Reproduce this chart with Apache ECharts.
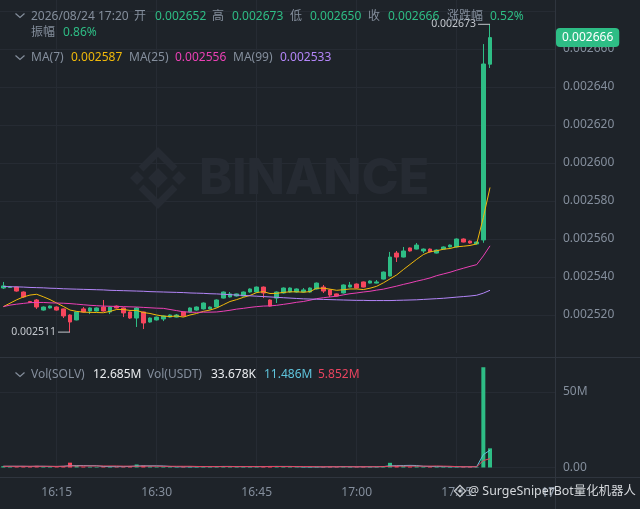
<!DOCTYPE html>
<html><head><meta charset="utf-8">
<script src="https://cdn.jsdelivr.net/npm/echarts@6/dist/echarts.min.js"></script>
<style>html,body{margin:0;padding:0;background:#1e2329;}#c{width:640px;height:509px;}</style>
</head><body><div id="c"></div>
<script>
// ---------------- data ----------------
const times = ['16:07','16:08','16:09','16:10','16:11','16:12','16:13','16:14','16:15','16:16',
'16:17','16:18','16:19','16:20','16:21','16:22','16:23','16:24','16:25','16:26',
'16:27','16:28','16:29','16:30','16:31','16:32','16:33','16:34','16:35','16:36',
'16:37','16:38','16:39','16:40','16:41','16:42','16:43','16:44','16:45','16:46',
'16:47','16:48','16:49','16:50','16:51','16:52','16:53','16:54','16:55','16:56',
'16:57','16:58','16:59','17:00','17:01','17:02','17:03','17:04','17:05','17:06',
'17:07','17:08','17:09','17:10','17:11','17:12','17:13','17:14','17:15','17:16',
'17:17','17:18','17:19','17:20'];
const opens = [0.0025342,0.0025345,0.0025347,0.0025321,0.0025271,0.0025279,0.0025226,0.0025237,0.0025242,0.0025232,
0.0025200,0.0025174,0.0025232,0.0025221,0.0025221,0.0025242,0.0025216,0.0025247,0.0025237,0.0025216,
0.0025184,0.0025216,0.0025163,0.0025174,0.0025179,0.0025189,0.0025189,0.0025216,0.0025216,0.0025226,
0.0025232,0.0025232,0.0025242,0.0025289,0.0025295,0.0025300,0.0025300,0.0025321,0.0025321,0.0025347,
0.0025279,0.0025289,0.0025316,0.0025321,0.0025321,0.0025321,0.0025321,0.0025337,0.0025347,0.0025332,
0.0025311,0.0025316,0.0025347,0.0025363,0.0025374,0.0025368,0.0025368,0.0025389,0.0025405,0.0025526,
0.0025505,0.0025553,0.0025547,0.0025537,0.0025547,0.0025526,0.0025547,0.0025558,0.0025558,0.0025600,
0.0025589,0.0025574,0.0025595,0.0026520];
const closes = [0.0025353,0.0025347,0.0025326,0.0025295,0.0025266,0.0025242,0.0025242,0.0025247,0.0025226,0.0025195,
0.0025163,0.0025216,0.0025216,0.0025237,0.0025237,0.0025221,0.0025242,0.0025237,0.0025211,0.0025184,
0.0025237,0.0025158,0.0025184,0.0025189,0.0025195,0.0025200,0.0025200,0.0025195,0.0025237,0.0025242,
0.0025263,0.0025242,0.0025279,0.0025321,0.0025311,0.0025311,0.0025321,0.0025337,0.0025347,0.0025316,
0.0025247,0.0025321,0.0025342,0.0025342,0.0025337,0.0025332,0.0025342,0.0025368,0.0025326,0.0025305,
0.0025300,0.0025358,0.0025358,0.0025342,0.0025347,0.0025379,0.0025374,0.0025426,0.0025505,0.0025505,
0.0025537,0.0025537,0.0025568,0.0025547,0.0025532,0.0025542,0.0025558,0.0025568,0.0025600,0.0025584,
0.0025579,0.0025584,0.0026521,0.0026660];
const lows = [0.0025337,0.0025342,0.0025323,0.0025290,0.0025263,0.0025232,0.0025223,0.0025234,0.0025223,0.0025184,
0.0025110,0.0025172,0.0025213,0.0025205,0.0025218,0.0025218,0.0025205,0.0025234,0.0025189,0.0025180,
0.0025137,0.0025126,0.0025160,0.0025171,0.0025168,0.0025187,0.0025187,0.0025192,0.0025213,0.0025223,
0.0025229,0.0025230,0.0025240,0.0025287,0.0025292,0.0025297,0.0025297,0.0025318,0.0025318,0.0025289,
0.0025245,0.0025263,0.0025313,0.0025318,0.0025318,0.0025318,0.0025318,0.0025334,0.0025316,0.0025295,
0.0025297,0.0025313,0.0025345,0.0025340,0.0025345,0.0025366,0.0025366,0.0025387,0.0025403,0.0025479,
0.0025503,0.0025534,0.0025545,0.0025526,0.0025529,0.0025524,0.0025545,0.0025555,0.0025555,0.0025582,
0.0025576,0.0025571,0.0025580,0.0026500];
const highs = [0.0025374,0.0025350,0.0025350,0.0025324,0.0025274,0.0025284,0.0025245,0.0025250,0.0025245,0.0025234,
0.0025203,0.0025218,0.0025242,0.0025240,0.0025240,0.0025279,0.0025245,0.0025250,0.0025240,0.0025218,
0.0025242,0.0025218,0.0025187,0.0025192,0.0025198,0.0025203,0.0025205,0.0025218,0.0025240,0.0025245,
0.0025266,0.0025245,0.0025282,0.0025324,0.0025321,0.0025313,0.0025324,0.0025340,0.0025350,0.0025350,
0.0025282,0.0025324,0.0025345,0.0025345,0.0025340,0.0025342,0.0025345,0.0025371,0.0025358,0.0025334,
0.0025313,0.0025361,0.0025374,0.0025366,0.0025376,0.0025382,0.0025384,0.0025429,0.0025532,0.0025537,
0.0025558,0.0025555,0.0025579,0.0025550,0.0025550,0.0025545,0.0025561,0.0025571,0.0025603,0.0025603,
0.0025592,0.0025587,0.0026626,0.0026730];
const volumes = [0.9e6,0.6e6,0.8e6,0.9e6,0.5e6,1.1e6,0.7e6,0.5e6,0.6e6,1.0e6,
3.2e6,1.2e6,0.6e6,0.5e6,0.4e6,0.8e6,0.6e6,0.4e6,0.7e6,0.9e6,
2.0e6,1.3e6,0.7e6,0.5e6,0.6e6,0.4e6,0.3e6,0.5e6,0.6e6,0.5e6,
0.8e6,0.4e6,0.7e6,0.9e6,0.5e6,0.4e6,0.6e6,0.5e6,0.7e6,0.8e6,
0.9e6,0.7e6,0.5e6,0.4e6,0.3e6,0.3e6,0.4e6,0.6e6,0.5e6,0.6e6,
0.4e6,0.7e6,0.5e6,0.5e6,0.6e6,0.4e6,0.5e6,1.0e6,3.1e6,1.2e6,
0.9e6,0.6e6,0.8e6,0.5e6,0.6e6,0.5e6,0.4e6,0.4e6,0.7e6,0.5e6,
0.4e6,0.4e6,66.4e6,12.685e6];
const ma7 = [0.0025244,0.0025262,0.0025280,0.0025295,0.0025305,0.0025309,0.0025296,0.0025281,0.0025263,0.0025245,
0.0025226,0.0025219,0.0025215,0.0025214,0.0025213,0.0025212,0.0025219,0.0025229,0.0025229,0.0025224,
0.0025224,0.0025213,0.0025208,0.0025200,0.0025194,0.0025192,0.0025195,0.0025189,0.0025200,0.0025208,
0.0025219,0.0025226,0.0025237,0.0025254,0.0025271,0.0025281,0.0025293,0.0025303,0.0025318,0.0025323,
0.0025313,0.0025314,0.0025319,0.0025322,0.0025322,0.0025320,0.0025323,0.0025341,0.0025341,0.0025336,
0.0025330,0.0025333,0.0025337,0.0025337,0.0025334,0.0025341,0.0025351,0.0025369,0.0025390,0.0025411,
0.0025439,0.0025466,0.0025493,0.0025518,0.0025533,0.0025538,0.0025546,0.0025550,0.0025559,0.0025562,
0.0025566,0.0025574,0.0025713,0.0025871];
const ma25 = [0.0025244,0.0025252,0.0025257,0.0025261,0.0025265,0.0025266,0.0025266,0.0025264,0.0025263,0.0025262,
0.0025260,0.0025257,0.0025254,0.0025251,0.0025249,0.0025247,0.0025246,0.0025245,0.0025244,0.0025243,
0.0025242,0.0025240,0.0025238,0.0025236,0.0025235,0.0025229,0.0025223,0.0025217,0.0025215,0.0025214,
0.0025215,0.0025215,0.0025216,0.0025220,0.0025225,0.0025231,0.0025235,0.0025240,0.0025244,0.0025247,
0.0025248,0.0025251,0.0025256,0.0025261,0.0025267,0.0025271,0.0025278,0.0025286,0.0025291,0.0025295,
0.0025299,0.0025306,0.0025312,0.0025316,0.0025321,0.0025325,0.0025331,0.0025336,0.0025344,0.0025352,
0.0025361,0.0025369,0.0025378,0.0025386,0.0025395,0.0025407,0.0025416,0.0025425,0.0025436,0.0025446,
0.0025456,0.0025465,0.0025511,0.0025564];
const ma99 = [0.0025350,0.0025349,0.0025348,0.0025347,0.0025345,0.0025344,0.0025343,0.0025341,0.0025340,0.0025338,
0.0025337,0.0025336,0.0025335,0.0025334,0.0025333,0.0025332,0.0025330,0.0025329,0.0025328,0.0025327,
0.0025326,0.0025325,0.0025323,0.0025322,0.0025321,0.0025320,0.0025319,0.0025318,0.0025316,0.0025315,
0.0025314,0.0025312,0.0025311,0.0025309,0.0025307,0.0025305,0.0025303,0.0025301,0.0025299,0.0025297,
0.0025295,0.0025293,0.0025291,0.0025289,0.0025287,0.0025285,0.0025284,0.0025283,0.0025282,0.0025281,
0.0025280,0.0025279,0.0025278,0.0025277,0.0025277,0.0025276,0.0025276,0.0025276,0.0025276,0.0025277,
0.0025278,0.0025279,0.0025280,0.0025282,0.0025284,0.0025286,0.0025288,0.0025291,0.0025294,0.0025297,
0.0025300,0.0025304,0.0025315,0.0025330];
const volMa5 = [0.8e6,0.8e6,0.8e6,0.8e6,0.7e6,0.8e6,0.8e6,0.7e6,0.7e6,0.8e6,
1.2e6,1.3e6,1.3e6,1.2e6,1.2e6,0.7e6,0.6e6,0.6e6,0.6e6,0.7e6,
1.0e6,1.1e6,1.1e6,1.1e6,1.0e6,0.7e6,0.5e6,0.5e6,0.5e6,0.5e6,
0.6e6,0.6e6,0.6e6,0.7e6,0.7e6,0.6e6,0.6e6,0.6e6,0.6e6,0.6e6,
0.7e6,0.7e6,0.7e6,0.7e6,0.6e6,0.4e6,0.4e6,0.4e6,0.4e6,0.5e6,
0.5e6,0.6e6,0.5e6,0.5e6,0.5e6,0.5e6,0.5e6,0.6e6,1.1e6,1.2e6,
1.3e6,1.4e6,1.3e6,0.8e6,0.7e6,0.6e6,0.6e6,0.5e6,0.5e6,0.5e6,
0.5e6,0.5e6,8.5e6,11.486e6];
const volMa10 = [0.8e6,0.8e6,0.8e6,0.8e6,0.8e6,0.8e6,0.8e6,0.8e6,0.7e6,0.8e6,
1.0e6,1.0e6,1.0e6,1.0e6,1.0e6,1.0e6,1.0e6,1.0e6,0.9e6,0.9e6,
0.8e6,0.9e6,0.9e6,0.9e6,0.8e6,0.8e6,0.8e6,0.8e6,0.8e6,0.7e6,
0.6e6,0.6e6,0.6e6,0.6e6,0.6e6,0.6e6,0.6e6,0.6e6,0.6e6,0.6e6,
0.6e6,0.7e6,0.6e6,0.6e6,0.6e6,0.6e6,0.6e6,0.5e6,0.5e6,0.5e6,
0.5e6,0.5e6,0.5e6,0.5e6,0.5e6,0.5e6,0.5e6,0.6e6,0.8e6,0.9e6,
0.9e6,0.9e6,0.9e6,0.9e6,0.9e6,1.0e6,0.9e6,0.8e6,0.6e6,0.5e6,
0.5e6,0.5e6,4.6e6,5.852e6];
const headerLine1 = ['2026/08/24 17:20','开','0.002652','高','0.002673','低','0.002650','收','0.002666','涨跌幅','0.52%'];
const headerLine2 = ['振幅','0.86%'];
const maNames = ['MA(7)','MA(25)','MA(99)'];
const volLegend = ['Vol(SOLV)','Vol(USDT)','33.678K'];
const watermark = '@ SurgeSniperBot量化机器人';
const brand = 'BINANCE';

// ---------------- styling / layout ----------------
const BG = '#1e2329', GRID = '#262b33', DIV = '#2f353e', TXT = '#848e9c';
const UP = '#2ebd85', DOWN = '#f6465d';
const C_MA7 = '#f0b90b', C_MA25 = '#eb40b5', C_MA99 = '#b385f8';
const C_V5 = '#5fc4dc', C_V10 = '#e8435f';
const FONT = '"Noto Sans", "Noto Sans CJK SC", sans-serif';
const PX = 20 / 3;               // pixels per minute
const GL = -6.5 * PX;            // grid left so that 16:06:30 sits at x = 0
const PLOT_R = 555;              // right edge of plot panes
const T0 = 16 * 60;

const toX = t => { const p = t.split(':').map(Number); return p[0] * 60 + p[1] - T0; };
const xs = times.map(toX);
const candle = xs.map((x, i) => [x, opens[i], closes[i], lows[i], highs[i]]);
const volData = xs.map((x, i) => ({ value: [x, volumes[i]], itemStyle: { color: closes[i] >= opens[i] ? UP : DOWN } }));
const pairs = arr => xs.map((x, i) => [x, arr[i]]);
const fmtTime = v => { const t = T0 + Math.round(v); return Math.floor(t / 60) + ':' + String(t % 60).padStart(2, '0'); };
const fmtM = v => (v / 1e6).toFixed(3) + 'M';
const last = a => a[a.length - 1];

const xMaxPlot = (PLOT_R - GL) / PX;
const xMaxLab = (640 - GL) / PX;
const priceMin = 0.0025, priceTopPx = 0, priceBotPx = 353;
const priceMax = priceMin + (priceBotPx - priceTopPx) / 1.9 * 1e-6;
const volTop = 358, volBot = 467.5, px50M = 75.5;
const volMax = (volBot - volTop) / px50M * 50e6;

const xPlot = gi => ({
  type: 'value', gridIndex: gi, min: 0, max: xMaxPlot, interval: 15,
  axisLine: { show: false }, axisTick: { show: false }, axisLabel: { show: false },
  splitLine: { show: true, showMinLine: false, showMaxLine: false, lineStyle: { color: GRID, width: 1 } }
});

// ---------------- graphics (legend texts, watermark, dividers) ----------------
const g = [];
const txt = (text, x, y, fill, extra) => g.push(Object.assign({ type: 'text', x, y, z: 100,
  style: { text, fill, font: '12px ' + FONT, verticalAlign: 'middle' } }, extra || {}));
const chevron = (y) => g.push({ type: 'polyline', z: 100, shape: { points: [[15.5, y - 2.5], [20, y + 1.5], [24.5, y - 2.5]] },
  style: { stroke: TXT, lineWidth: 1.2, fill: null } });

// watermark logo + text
const wmC = '#262b33';
g.push({ type: 'rect', x: 158, y: 178, rotation: Math.PI / 4, z: 1, shape: { x: -7, y: -7, width: 14, height: 14 }, style: { fill: wmC } });
g.push({ type: 'rect', x: 137, y: 178, rotation: Math.PI / 4, z: 1, shape: { x: -5, y: -5, width: 10, height: 10 }, style: { fill: wmC } });
g.push({ type: 'rect', x: 179, y: 178, rotation: Math.PI / 4, z: 1, shape: { x: -5, y: -5, width: 10, height: 10 }, style: { fill: wmC } });
g.push({ type: 'polyline', z: 1, shape: { points: [[141, 169], [158, 152], [175, 169]] }, style: { stroke: wmC, lineWidth: 7, fill: null } });
g.push({ type: 'polyline', z: 1, shape: { points: [[141, 187], [158, 204], [175, 187]] }, style: { stroke: wmC, lineWidth: 7, fill: null } });
g.push({ type: 'text', x: 199, y: 179, z: 1, style: { text: brand, fill: wmC, font: '800 50px Inter, "Noto Sans", sans-serif', verticalAlign: 'middle' } });

// dividers + cover for the clipped time label beyond the plot
g.push({ type: 'rect', z: 90, shape: { x: PLOT_R + 0.5, y: 478, width: 90, height: 31 }, style: { fill: BG } });
g.push({ type: 'line', z: 95, shape: { x1: PLOT_R + 0.5, y1: 0, x2: PLOT_R + 0.5, y2: 509 }, style: { stroke: DIV, lineWidth: 1 } });
g.push({ type: 'line', z: 95, shape: { x1: 0, y1: 357.5, x2: 640, y2: 357.5 }, style: { stroke: DIV, lineWidth: 1 } });
g.push({ type: 'line', z: 95, shape: { x1: 0, y1: 477.5, x2: 640, y2: 477.5 }, style: { stroke: DIV, lineWidth: 1 } });

// header
const h1x = [31, 134, 155, 212, 232, 290, 310, 368, 388, 447, 490];
headerLine1.forEach((s, i) => txt(s, h1x[i], 16.5, (i === 0 || i % 2 === 1) ? TXT : UP));
txt(headerLine2[0], 31, 33, TXT); txt(headerLine2[1], 63, 33, UP);
chevron(16);
// MA legend
const maVals = [last(ma7), last(ma25), last(ma99)].map(v => v.toFixed(6));
const maCols = [C_MA7, C_MA25, C_MA99];
const maX = [31, 71, 129, 175, 233, 280];
maNames.forEach((n, i) => { txt(n, maX[2 * i], 58, TXT); txt(maVals[i], maX[2 * i + 1], 58, maCols[i]); });
chevron(58);
// volume legend
txt(volLegend[0], 31, 375, TXT); txt(fmtM(last(volumes)), 93, 375, '#eaecef');
txt(volLegend[1], 147, 375, TXT); txt(volLegend[2], 211, 375, '#eaecef');
txt(fmtM(last(volMa5)), 264, 375, C_V5); txt(fmtM(last(volMa10)), 318, 375, C_V10);
chevron(375);
// bottom watermark
g.push({ type: 'rect', x: 460, y: 491, rotation: Math.PI / 4, z: 101, shape: { x: -4, y: -4, width: 8, height: 8 }, style: { fill: null, stroke: '#c9ccd1', lineWidth: 1.2 } });
g.push({ type: 'rect', x: 460, y: 491, rotation: Math.PI / 4, z: 101, shape: { x: -1.5, y: -1.5, width: 3, height: 3 }, style: { fill: '#c9ccd1' } });
g.push({ type: 'text', x: 468, y: 491, z: 101, style: { text: watermark, fill: '#d5d8dc', font: '12.4px ' + FONT, verticalAlign: 'middle' } });

const extremeLabel = {
  show: true, position: 'left', distance: 0,
  formatter: p => '{t|' + p.value.toFixed(6) + '}{l|}',
  rich: { t: { color: '#c3c7cd', fontSize: 10.5, fontFamily: FONT, padding: [0, 2, 0, 0] }, l: { width: 12, height: 1, backgroundColor: '#c3c7cd' } }
};

const chart = echarts.init(document.getElementById('c'), null, { renderer: 'canvas' });
chart.setOption({
  backgroundColor: BG,
  animation: false,
  textStyle: { fontFamily: FONT },
  grid: [
    { left: GL, top: priceTopPx, width: PLOT_R - GL, height: priceBotPx - priceTopPx, containLabel: false, outerBoundsMode: 'none' },
    { left: GL, top: volTop, width: PLOT_R - GL, height: volBot - volTop, containLabel: false, outerBoundsMode: 'none' },
    { left: GL, top: 477, width: 640 - GL, height: 1, containLabel: false, outerBoundsMode: 'none' }
  ],
  xAxis: [
    xPlot(0), xPlot(1),
    { type: 'value', gridIndex: 2, min: 0, max: xMaxLab, interval: 15,
      axisLine: { show: false }, axisTick: { show: false }, splitLine: { show: false },
      axisLabel: { show: true, color: TXT, fontSize: 12, margin: 9, formatter: fmtTime, showMinLabel: false, showMaxLabel: false } }
  ],
  yAxis: [
    { type: 'value', gridIndex: 0, position: 'right', min: priceMin, max: priceMax, interval: 0.00002,
      axisLine: { show: false }, axisTick: { show: false },
      splitLine: { show: true, showMinLine: false, showMaxLine: false, lineStyle: { color: GRID } },
      axisLabel: { color: TXT, fontSize: 12, margin: 8, showMinLabel: false, showMaxLabel: false,
        formatter: v => (v < 0.00251 || v > 0.00267) ? '' : v.toFixed(6) } },
    { type: 'value', gridIndex: 1, position: 'right', min: 0, max: volMax, interval: 50e6,
      axisLine: { show: false }, axisTick: { show: false },
      splitLine: { show: true, showMaxLine: false, lineStyle: { color: GRID } },
      axisLabel: { color: TXT, fontSize: 12, margin: 8, showMaxLabel: false,
        formatter: v => v === 0 ? '0.00' : (v / 1e6) + 'M' } },
    { type: 'value', gridIndex: 2, show: false }
  ],
  series: [
    { type: 'candlestick', name: 'K', xAxisIndex: 0, yAxisIndex: 0, data: candle, barWidth: 4,
      itemStyle: { color: UP, color0: DOWN, borderColor: UP, borderColor0: DOWN, borderWidth: 1 },
      markPoint: { symbol: 'circle', symbolSize: 0, label: extremeLabel, animation: false,
        data: [ { coord: [xs[xs.length - 1], last(highs)], value: last(highs) },
                { coord: [xs[10], lows[10]], value: lows[10] } ] } },
    { type: 'line', name: 'MA7', xAxisIndex: 0, yAxisIndex: 0, data: pairs(ma7), showSymbol: false, lineStyle: { color: C_MA7, width: 1 } },
    { type: 'line', name: 'MA25', xAxisIndex: 0, yAxisIndex: 0, data: pairs(ma25), showSymbol: false, lineStyle: { color: C_MA25, width: 1 } },
    { type: 'line', name: 'MA99', xAxisIndex: 0, yAxisIndex: 0, data: pairs(ma99), showSymbol: false, lineStyle: { color: C_MA99, width: 1 } },
    { type: 'bar', name: 'Vol', xAxisIndex: 1, yAxisIndex: 1, data: volData, barWidth: 4 },
    { type: 'line', name: 'VolMA5', xAxisIndex: 1, yAxisIndex: 1, data: pairs(volMa5), showSymbol: false, lineStyle: { color: C_V5, width: 1 } },
    { type: 'line', name: 'VolMA10', xAxisIndex: 1, yAxisIndex: 1, data: pairs(volMa10), showSymbol: false, lineStyle: { color: C_V10, width: 1 } }
  ],
  graphic: { elements: g }
});

// last-price tag and the partly hidden next time label, positioned through the chart's own scales
const tagY = chart.convertToPixel({ yAxisIndex: 0 }, last(closes));
g.push({ type: 'text', x: PLOT_R + 1, y: tagY, z: 120,
  style: { text: last(closes).toFixed(6), fill: '#ffffff', font: '12px ' + FONT, verticalAlign: 'middle',
    backgroundColor: UP, borderRadius: 4, padding: [4, 6, 3, 6] } });
const nextTick = 90;
const nextX = chart.convertToPixel({ xAxisIndex: 2 }, nextTick);
g.push({ type: 'text', x: nextX, y: 494, z: 80,
  style: { text: fmtTime(nextTick), fill: TXT, font: '12px ' + FONT, align: 'center', verticalAlign: 'middle' } });
chart.setOption({ graphic: { elements: g } });
</script></body></html>
